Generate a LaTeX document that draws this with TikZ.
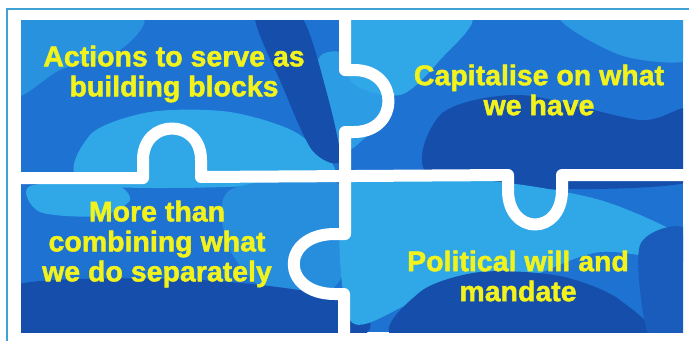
\documentclass[tikz,border=0pt]{standalone}
\usepackage{fontspec}
\setmainfont{Liberation Sans}
\newfontfamily\piecefont[BoldFeatures={FakeBold=1.6}]{Liberation Sans}
\usepackage{tikz}

\definecolor{seadeep}{RGB}{22,78,172}
\definecolor{seamid}{RGB}{30,114,210}
\definecolor{sealight}{RGB}{48,168,232}
\definecolor{textyellow}{RGB}{242,242,28}
\definecolor{framecyan}{RGB}{62,162,212}

\tikzset{
   cut/.style={white, line width=12pt, line join=round},
   piecetext/.style={text=textyellow, font=\piecefont\bfseries\fontsize{28.5}{30}\selectfont, align=center},
   frameline/.style={framecyan, line width=2pt}
}

\begin{document}
\begin{tikzpicture}[x=1pt,y=-1pt]
\useasboundingbox (0,0) rectangle (689,341);

%% Frame (top and left only)
\draw[frameline] (689,9) -- (7,9) -- (7,341);

%% Sea background, clipped to the board
\begin{scope}
\clip (21,20) rectangle (683,332);
\fill[seamid] (21,20) rectangle (683,332);

% top left piece
\fill[sealight!60!seamid] plot[smooth cycle] coordinates {(15,15) (140,15) (120,50) (60,70) (15,95)};
\fill[sealight] plot[smooth cycle] coordinates {(90,135) (150,112) (230,112) (300,135) (325,180) (90,185)};
\fill[sealight!80!seamid] plot[smooth cycle] coordinates {(318,60) (350,55) (392,100) (350,150) (330,130)};
\fill[seadeep] plot[smooth cycle] coordinates {(255,15) (300,15) (326,90) (340,160) (312,150) (282,85)};

% top right piece
\fill[sealight] plot[smooth cycle] coordinates {(350,15) (470,15) (440,60) (400,95) (350,80)};
\fill[sealight!70!seamid] plot[smooth cycle] coordinates {(560,15) (690,15) (690,60) (620,55)};
\fill[seadeep] plot[smooth cycle] coordinates {(440,115) (520,95) (640,120) (690,110) (690,182) (440,182)};

% bottom left piece
\fill[sealight] plot[smooth cycle] coordinates {(30,186) (110,183) (130,200) (100,216) (40,212)};
\fill[sealight!50!seamid] plot[smooth cycle] coordinates {(230,190) (340,185) (340,280) (280,300) (230,250)};
\fill[seadeep] plot[smooth cycle] coordinates {(15,285) (200,280) (345,300) (345,340) (15,340)};

% bottom right piece
\fill[sealight] plot[smooth cycle] coordinates {(350,180) (480,180) (600,200) (690,240) (690,262) (600,252) (520,280) (420,300) (350,320)};
\fill[seadeep] plot[smooth cycle] coordinates {(420,292) (480,272) (560,276) (620,300) (640,340) (400,340)};
\fill[seadeep!60!seamid] plot[smooth cycle] coordinates {(640,245) (690,232) (690,340) (650,340)};
\end{scope}

%% Cuts between the pieces
% across, knob up on the left and knob down on the right
\draw[cut] (15,178) -- (143,178) -- (143,160) .. controls (143,118) and (201,118) .. (201,160)
   -- (201,177) -- (508,175) -- (508,190) .. controls (508,236) and (562,236) .. (562,190)
   -- (562,175) -- (690,175);
% down, knob right on top and knob left below
\draw[cut] (345,14) -- (345,70) -- (354,70) .. controls (400,70) and (400,132) .. (354,132)
   -- (345,132) -- (345,234) -- (335,234) .. controls (280,234) and (280,294) .. (335,294)
   -- (344,294) -- (344,338);

%% Texts
\node[piecetext] (actions) at (174,74) {Actions to serve as\\building blocks};
\node[piecetext] (capitalise) at (539,90) {Capitalise on what\\we have};
\node[piecetext] (combining) at (157,244) {More than\\combining what\\we do separately};
\node[piecetext] (mandate) at (518,276) {Political will and\\mandate};
\end{tikzpicture}
\end{document}
